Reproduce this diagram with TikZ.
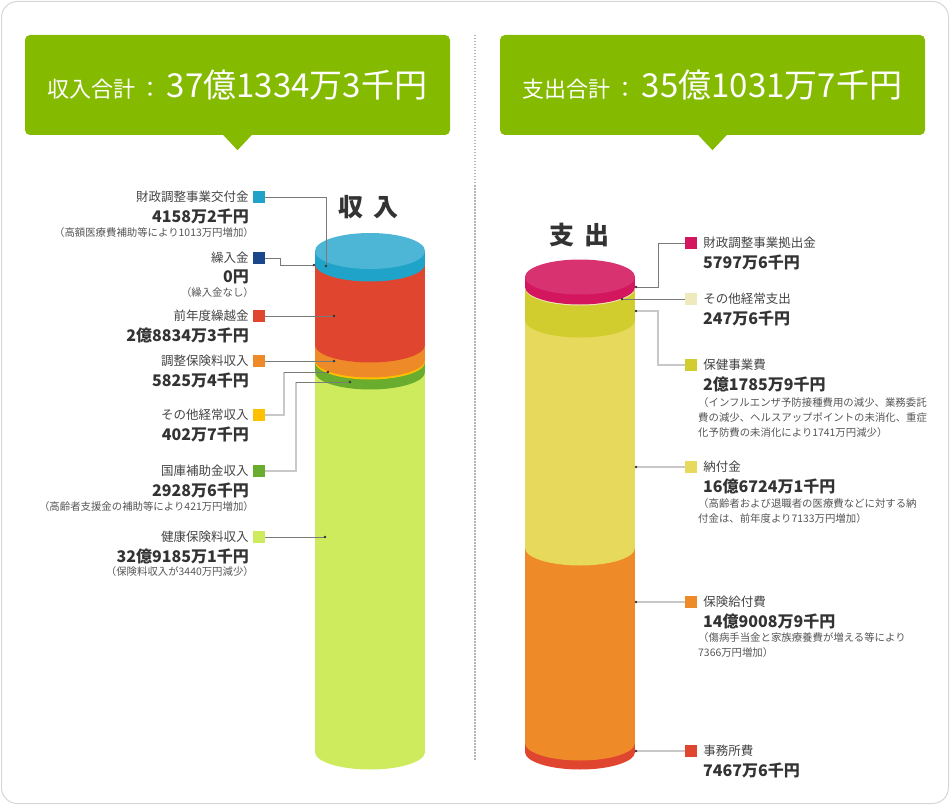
\documentclass[tikz,border=0pt]{standalone}
\usepackage{fontspec}
\setmainfont{Noto Sans CJK JP}
\usepackage{tikz}
\usetikzlibrary{positioning}
\definecolor{hdrgreen}{HTML}{84BA00}
\definecolor{framegray}{HTML}{D6D6D6}
\definecolor{sepgray}{HTML}{B4B4B4}
\definecolor{txtgray}{HTML}{444444}
\definecolor{amtgray}{HTML}{333333}
\definecolor{notegray}{HTML}{555555}
\definecolor{leadgray}{HTML}{7A7A7A}
\definecolor{leadlight}{HTML}{C8C8C8}
\definecolor{dotgray}{HTML}{333333}
\definecolor{topblue}{HTML}{4DB5D6}
\definecolor{sideblue}{HTML}{1FA3C9}
\definecolor{navy}{HTML}{1A468C}
\definecolor{cred}{HTML}{E0452F}
\definecolor{corange}{HTML}{EE8A27}
\definecolor{cyellow}{HTML}{FFC000}
\definecolor{cgreen}{HTML}{69AC2E}
\definecolor{clime}{HTML}{CDEB5C}
\definecolor{toppink}{HTML}{D83370}
\definecolor{sidepink}{HTML}{D4165F}
\definecolor{cpale}{HTML}{EEEABB}
\definecolor{colive}{HTML}{D2CD2E}
\definecolor{cyel}{HTML}{E7D95B}

\begin{document}
\begin{tikzpicture}[x=1pt,y=-1pt,
        hdr/.style={fill=hdrgreen,text=white,rounded corners=5pt,minimum width=425pt,minimum height=100pt,inner sep=0pt},
        cyl/.style={font=\bfseries\fontsize{25}{27}\selectfont,text=amtgray,inner sep=0pt},
        sq/.style={minimum size=12pt,inner sep=0pt},
        ttl/.style={font=\fontsize{12.5}{14}\selectfont,text=txtgray,inner sep=0pt},
        amt/.style={font=\bfseries\fontsize{16}{18}\selectfont,text=amtgray,inner sep=0pt},
        note/.style={font=\fontsize{10.4}{15}\selectfont,text=notegray,inner sep=0pt,align=left},
        lead/.style={draw=leadgray,line width=.8pt},
        leadl/.style={draw=leadlight,line width=1.6pt}]
        \useasboundingbox (0,0) rectangle (950,805);
        \draw[framegray,line width=1pt,rounded corners=16pt] (1.5,1.5) rectangle (948.5,803.5);
        \draw[sepgray,line width=1.2pt,dash pattern=on 1.5pt off 1.5pt] (475,35) -- (475,760);
        % headers
        \node[hdr] (hin) at (237.5,85) {{\fontsize{22}{24}\selectfont 収入合計\hspace{4pt}：\hspace{5pt}}{\fontsize{33}{35}\selectfont 37億1334万3千円}};
        \node[hdr] (hout) at (712.5,85) {{\fontsize{22}{24}\selectfont 支出合計\hspace{4pt}：\hspace{5pt}}{\fontsize{33}{35}\selectfont 35億1031万7千円}};
        \foreach \h in {hin,hout}
            \fill[hdrgreen] ([xshift=-15pt,yshift=1pt]\h.south) -- ([yshift=-15pt]\h.south) -- ([xshift=15pt,yshift=1pt]\h.south) -- cycle;
        \node[cyl] (tin) at (368,207) {収\hspace{10pt}入};
        \node[cyl] (tout) at (579,235) {支\hspace{10pt}出};
        % income cylinder
        \foreach \t/\b/\c in {372/752/clime,362/372/cgreen,360/362/cyellow,345/360/corange,264/345/cred,251/264/sideblue}
        {
            \fill[\c] (315,\t) rectangle (425,\b);
            \fill[\c] (370,\b) ellipse [x radius=55pt,y radius=17.5pt];
        }
        \fill[topblue] (370,251) ellipse [x radius=55pt,y radius=18pt];
        % expense cylinder
        \foreach \t/\b/\c in {743/752/cred,548/743/corange,320/548/cyel,288/320/colive,287/288/cpale,277/287/sidepink}
        {
            \fill[\c] (525,\t) rectangle (635,\b);
            \fill[\c] (580,\b) ellipse [x radius=55pt,y radius=17.5pt];
        }
        \fill[toppink] (580,277) ellipse [x radius=55pt,y radius=17.5pt];
        % income labels
        \foreach \n/\y/\c/\t/\v in {1/197/sideblue/財政調整事業交付金/4158万2千円,
                2/258/navy/繰入金/0円,
                3/316/cred/前年度繰越金/2億8834万3千円,
                4/361/corange/調整保険料収入/5825万4千円,
                5/415/cyellow/その他経常収入/402万7千円,
                6/471/cgreen/国庫補助金収入/2928万6千円,
                7/537/clime/健康保険料収入/32億9185万1千円}
        {
            \node[sq,fill=\c] (L\n) at (259,\y) {};
            \node[ttl,left=4pt of L\n] (Lt\n) {\t};
            \node[amt,anchor=east] (La\n) at (249,\y+19) {\v};
        }
        \node[note,anchor=east] (Ln1) at (254,233) {（高額医療費補助等により1013万円増加）};
        \node[note,anchor=east] (Ln2) at (254,293) {（繰入金なし）};
        \node[note,anchor=east] (Ln6) at (254,507) {（高齢者支援金の補助等により421万円増加）};
        \node[note,anchor=east] (Ln7) at (254,572) {（保険料収入が3440万円減少）};
        % expense labels
        \foreach \n/\y/\c/\t/\v in {1/243/sidepink/財政調整事業拠出金/5797万6千円,
                2/299/cpale/その他経常支出/247万6千円,
                3/365/colive/保健事業費/2億1785万9千円,
                4/467/cyel/納付金/16億6724万1千円,
                5/602/corange/保険給付費/14億9008万9千円,
                6/751/cred/事務所費/7467万6千円}
        {
            \node[sq,fill=\c] (R\n) at (691,\y) {};
            \node[ttl,right=6pt of R\n] (Rt\n) {\t};
            \node[amt,anchor=west] (Ra\n) at (703,\y+19) {\v};
        }
        \node[note,anchor=west] (Rn3) at (698,418) {（インフルエンザ予防接種費用の減少、業務委託\\費の減少、ヘルスアップポイントの未消化、重症\\化予防費の未消化により1741万円減少）};
        \node[note,anchor=west] (Rn4) at (698,511) {（高齢者および退職者の医療費などに対する納\\付金は、前年度より7133万円増加）};
        \node[note,anchor=west] (Rn5) at (698,645) {（傷病手当金と家族療養費が増える等により\\7366万円増加）};
        % leader ends
        \coordinate (ld1) at (326,266);
        \coordinate (ld2) at (314,265);
        \coordinate (ld3) at (334,316);
        \coordinate (ld4) at (334,361);
        \coordinate (lk5) at (284,372);
        \coordinate (ld5) at (328,372);
        \coordinate (lk6) at (296,382);
        \coordinate (ld6) at (350,382);
        \coordinate (ld7) at (325,537);
        \coordinate (rd1) at (636,287);
        \coordinate (rd2) at (622,299);
        \coordinate (rd3) at (636,311);
        \coordinate (rd4) at (636,467);
        \coordinate (rd5) at (636,602);
        \coordinate (rd6) at (636,751);
        \draw[lead] (L1.east) -| (ld1);
        \draw[lead] (L2.east) -- ++(15,0) |- (ld2);
        \draw[lead] (L3.east) -- (ld3);
        \draw[lead] (L4.east) -- (ld4);
        \draw[leadl] (L5.east) -| (lk5);
        \draw[lead] (lk5) -- (ld5);
        \draw[leadl] (L6.east) -| (lk6);
        \draw[lead] (lk6) -- (ld6);
        \draw[lead] (L7.east) -- (ld7);
        \draw[lead] (rd1) -- ++(22,0) |- (R1.west);
        \draw[lead] (rd2) -- (R2.west);
        \draw[leadl] (rd3) -- ++(22,0) |- (R3.west);
        \foreach \n in {4,5,6}
            \draw[leadl] (rd\n) -- (R\n.west);
        \foreach \d in {ld1,ld2,ld3,ld4,ld5,ld6,ld7,rd1,rd2,rd3,rd4,rd5,rd6}
            \fill[dotgray] (\d) circle (1.3pt);
\end{tikzpicture}
\end{document}
